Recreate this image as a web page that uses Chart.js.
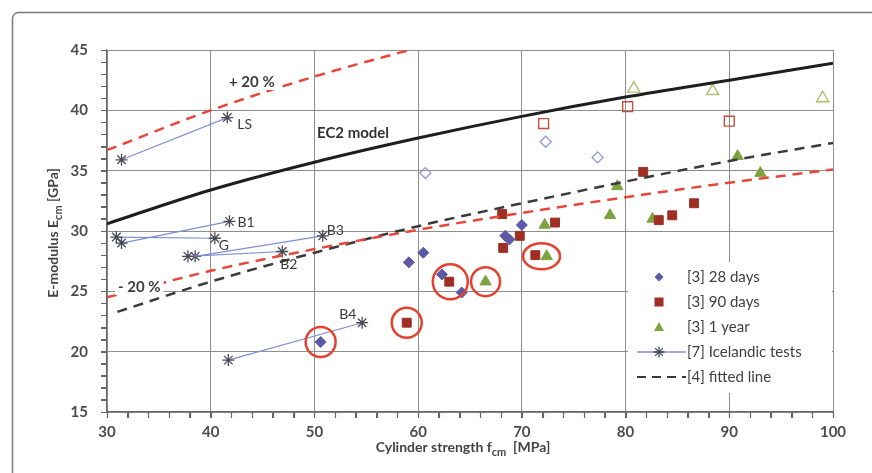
<!DOCTYPE html>
<html>
<head>
<meta charset="utf-8">
<script src="https://cdn.jsdelivr.net/npm/chart.js@4/dist/chart.umd.min.js"></script>
<style>
  html, body { margin: 0; padding: 0; background: #fff; }
  #wrap { width: 872px; height: 473px; position: relative; }
</style>
</head>
<body>
<div id="wrap"><canvas id="emodChart"></canvas></div>
<script>
// ---- values ----
// EC2 model curve and the +/- 20 % bands
const ec2X   = [30, 40, 50, 60, 70, 80, 90, 100];
const ec2Y   = [30.6, 33.4, 35.7, 37.7, 39.5, 41.1, 42.5, 43.9];
const upperX = [30, 40, 50, 60];
const upperY = [36.7, 40.0, 42.8, 45.2];
const lowerX = [30, 40, 50, 60, 70, 80, 90, 100];
const lowerY = [24.5, 26.7, 28.5, 30.1, 31.5, 32.8, 34.0, 35.1];
// [4] fitted line
const fitX = [31, 40, 50, 60, 70, 80, 90, 100];
const fitY = [23.3, 25.8, 28.2, 30.4, 32.3, 34.1, 35.8, 37.3];

// [3] 28 days
const d28X = [50.6, 59.1, 60.5, 62.3, 64.2, 68.4, 68.8, 70.0];
const d28Y = [20.8, 27.4, 28.2, 26.4, 24.9, 29.6, 29.3, 30.5];
const d28OpenX = [60.7, 72.3, 77.3];
const d28OpenY = [34.8, 37.4, 36.1];
// [3] 90 days
const d90X = [58.9, 63.0, 68.2, 69.8, 71.3, 68.1, 73.2, 81.7, 86.6, 84.5, 83.2];
const d90Y = [22.4, 25.8, 28.6, 29.6, 28.0, 31.4, 30.7, 34.9, 32.3, 31.3, 30.9];
const d90OpenX = [72.1, 80.2, 90.0];
const d90OpenY = [38.9, 40.3, 39.1];
// [3] 1 year
const y1X = [66.5, 72.4, 72.2, 79.2, 78.5, 82.6, 90.8, 93.0];
const y1Y = [25.8, 27.9, 30.5, 33.7, 31.3, 31.0, 36.2, 34.8];
const y1OpenX = [80.8, 88.4, 99.0];
const y1OpenY = [41.8, 41.6, 41.0];

// [7] Icelandic tests, start and end of each pair
const iceNames = ['LS', 'B1', 'G', 'B2', 'B3', 'B4'];
const iceX1 = [31.4, 31.4, 30.9, 37.8, 38.5, 41.7];
const iceY1 = [35.9, 29.0, 29.5, 27.9, 27.9, 19.3];
const iceX2 = [41.6, 41.8, 40.4, 46.9, 50.8, 54.6];
const iceY2 = [39.4, 30.8, 29.4, 28.3, 29.6, 22.4];

// red rings drawn around some points
const ringX = [50.6, 58.9, 63.1, 66.5, 71.9];
const ringY = [20.8, 22.4, 25.8, 25.8, 27.9];

const legendNames = ['[3] 28 days', '[3] 90 days', '[3] 1 year', '[7] Icelandic tests', '[4] fitted line'];

const FONT = 'Lato, "DejaVu Sans", sans-serif';
const RED = '#e8463a';
const DIAMOND = '#5c5aa6';
const SQUARE = '#9e2f25';
const TRIANGLE = '#7da23e';
const ICE_LINE = '#7f8fd2';
const STAR = '#4a4a55';

function pts(xs, ys) {
    return xs.map((x, i) => ({ x: x, y: ys[i] }));
}

function curve(xs, ys, color, dash, width) {
    return {
        type: 'scatter',
        data: pts(xs, ys),
        showLine: true,
        borderColor: color,
        borderWidth: width,
        borderDash: dash,
        pointRadius: 0,
        cubicInterpolationMode: 'monotone',
        fill: false
    };
}

function markers(xs, ys, style, fillColor, lineColor, r, bw) {
    return {
        type: 'scatter',
        data: pts(xs, ys),
        pointStyle: style,
        pointRadius: r,
        backgroundColor: fillColor,
        borderColor: lineColor,
        pointBorderWidth: bw
    };
}

const datasets = [
    curve(ec2X, ec2Y, '#1e1e1e', [], 3),
    curve(upperX, upperY, RED, [10, 7], 2.5),
    curve(lowerX, lowerY, RED, [10, 7], 2.5),
    curve(fitX, fitY, '#3a3a3a', [10, 7], 2.5)
];

// one small dataset for each Icelandic pair
for (let i = 0; i < iceNames.length; i++) {
    datasets.push({
        type: 'scatter',
        data: [{ x: iceX1[i], y: iceY1[i] }, { x: iceX2[i], y: iceY2[i] }],
        showLine: true,
        borderColor: ICE_LINE,
        borderWidth: 1.2,
        pointStyle: 'star',
        pointRadius: 6,
        pointBorderColor: STAR,
        pointBorderWidth: 1.3
    });
}

datasets.push(
    markers(d28OpenX, d28OpenY, 'rectRot', 'rgba(0,0,0,0)', '#8d9bd0', 5.5, 1.3),
    markers(d90OpenX, d90OpenY, 'rect', 'rgba(0,0,0,0)', '#c4503c', 7, 1.4),
    markers(y1OpenX, y1OpenY, 'triangle', 'rgba(0,0,0,0)', '#a9c271', 7, 1.4),
    markers(d28X, d28Y, 'rectRot', DIAMOND, DIAMOND, 5.5, 1),
    markers(d90X, d90Y, 'rect', SQUARE, SQUARE, 6.3, 1),
    markers(y1X, y1Y, 'triangle', TRIANGLE, TRIANGLE, 6.5, 1)
);

function drawRich(ctx, parts, x, y, align) {
    // parts: [text, isSubscript]
    let total = 0;
    parts.forEach(p => {
        ctx.font = p[1] ? 'bold 11px ' + FONT : 'bold 14px ' + FONT;
        total += ctx.measureText(p[0]).width;
    });
    let cx = align === 'center' ? x - total / 2 : x;
    parts.forEach(p => {
        ctx.font = p[1] ? 'bold 11px ' + FONT : 'bold 14px ' + FONT;
        ctx.fillText(p[0], cx, p[1] ? y + 4 : y);
        cx += ctx.measureText(p[0]).width;
    });
}

function labelWithBg(ctx, text, x, y, font) {
    ctx.font = font;
    const w = ctx.measureText(text).width;
    ctx.fillStyle = '#fff';
    ctx.fillRect(x - 3, y - 8, w + 6, 16);
    ctx.fillStyle = '#3c3c3c';
    ctx.fillText(text, x, y);
}

const pagePlugin = {
    id: 'page',
    beforeDraw(chart) {
        const ctx = chart.ctx;
        ctx.save();
        ctx.fillStyle = '#fff';
        ctx.fillRect(0, 0, chart.width, chart.height);
        // outer frame of the scanned figure, runs off right and bottom
        ctx.strokeStyle = '#7a7a7a';
        ctx.lineWidth = 1.5;
        ctx.beginPath();
        ctx.roundRect(12.5, 12.5, 900, 500, 6);
        ctx.stroke();
        ctx.restore();
    },
    afterDatasetsDraw(chart) {
        const ctx = chart.ctx;
        const xs = chart.scales.x;
        const ys = chart.scales.y;
        ctx.save();

        // red rings
        const ringSize = [[15, 15], [15, 15], [17.5, 17.5], [14.5, 14.5], [18.5, 13]];
        ctx.strokeStyle = '#e5412f';
        ctx.lineWidth = 2.5;
        ringX.forEach((v, i) => {
            ctx.beginPath();
            ctx.ellipse(xs.getPixelForValue(v), ys.getPixelForValue(ringY[i]),
                ringSize[i][0], ringSize[i][1], 0, 0, Math.PI * 2);
            ctx.stroke();
        });

        // names of Icelandic tests, next to the end star
        const nameOffset = [[10, 7], [8, 1], [4, 7], [-2, 13], [4, -5], [-23, -8]];
        ctx.font = '14px ' + FONT;
        ctx.fillStyle = '#3a3a3a';
        ctx.textAlign = 'left';
        ctx.textBaseline = 'middle';
        iceNames.forEach((n, i) => {
            ctx.fillText(n, xs.getPixelForValue(iceX2[i]) + nameOffset[i][0],
                ys.getPixelForValue(iceY2[i]) + nameOffset[i][1]);
        });

        // curve labels
        labelWithBg(ctx, '+ 20 %', 229, 82, 'bold 15px ' + FONT);
        labelWithBg(ctx, '- 20 %', 118, 287, 'bold 15px ' + FONT);
        ctx.font = 'bold 15px ' + FONT;
        ctx.fillStyle = '#333';
        ctx.fillText('EC2 model', 317, 133);

        // legend box
        ctx.fillStyle = '#fff';
        ctx.fillRect(628, 262, 204, 131);
        const lx = 659, tx = 687;
        const rowY = [277, 302, 327, 352, 377];
        // diamond
        ctx.fillStyle = DIAMOND;
        ctx.beginPath();
        ctx.moveTo(lx - 4.5, rowY[0]); ctx.lineTo(lx, rowY[0] - 4.5);
        ctx.lineTo(lx + 4.5, rowY[0]); ctx.lineTo(lx, rowY[0] + 4.5);
        ctx.closePath(); ctx.fill();
        // square
        ctx.fillStyle = SQUARE;
        ctx.fillRect(lx - 4.5, rowY[1] - 4.5, 9, 9);
        // triangle
        ctx.fillStyle = TRIANGLE;
        ctx.beginPath();
        ctx.moveTo(lx, rowY[2] - 5); ctx.lineTo(lx + 5, rowY[2] + 4); ctx.lineTo(lx - 5, rowY[2] + 4);
        ctx.closePath(); ctx.fill();
        // line with star
        ctx.strokeStyle = ICE_LINE;
        ctx.lineWidth = 1.3;
        ctx.beginPath();
        ctx.moveTo(637, rowY[3]); ctx.lineTo(686, rowY[3]);
        ctx.stroke();
        ctx.strokeStyle = STAR;
        ctx.beginPath();
        for (let a = 0; a < 4; a++) {
            const ang = a * Math.PI / 4;
            ctx.moveTo(lx - 5.5 * Math.cos(ang), rowY[3] - 5.5 * Math.sin(ang));
            ctx.lineTo(lx + 5.5 * Math.cos(ang), rowY[3] + 5.5 * Math.sin(ang));
        }
        ctx.stroke();
        // dashed fitted line
        ctx.strokeStyle = '#3a3a3a';
        ctx.lineWidth = 2.2;
        ctx.setLineDash([9, 6]);
        ctx.beginPath();
        ctx.moveTo(637, rowY[4]); ctx.lineTo(686, rowY[4]);
        ctx.stroke();
        ctx.setLineDash([]);

        ctx.font = '15px ' + FONT;
        ctx.fillStyle = '#404040';
        legendNames.forEach((n, i) => ctx.fillText(n, tx, rowY[i]));

        ctx.restore();
    },
    afterDraw(chart) {
        const ctx = chart.ctx;
        const xs = chart.scales.x;
        const ys = chart.scales.y;
        const area = chart.chartArea;
        ctx.save();

        // minor tick marks outside the axes
        ctx.strokeStyle = '#666';
        ctx.lineWidth = 1.2;
        ctx.beginPath();
        for (let v = 15; v <= 45; v++) {
            const py = Math.round(ys.getPixelForValue(v)) + 0.5;
            ctx.moveTo(area.left - 6, py);
            ctx.lineTo(area.left, py);
        }
        for (let v = 30; v <= 100; v += 2) {
            const px = Math.round(xs.getPixelForValue(v)) + 0.5;
            ctx.moveTo(px, area.bottom);
            ctx.lineTo(px, area.bottom + 6);
        }
        ctx.stroke();

        ctx.fillStyle = '#444';
        ctx.textBaseline = 'alphabetic';
        drawRich(ctx, [['Cylinder strength f', false], ['cm', true], ['  [MPa]', false]], 463, 452, 'center');
        ctx.translate(58, 233);
        ctx.rotate(-Math.PI / 2);
        drawRich(ctx, [['E-modulus E', false], ['cm', true], [' [GPa]', false]], 0, 0, 'center');
        ctx.restore();
    }
};

new Chart(document.getElementById('emodChart'), {
    type: 'scatter',
    data: { datasets: datasets },
    options: {
        responsive: true,
        maintainAspectRatio: false,
        animation: false,
        layout: { padding: { top: 50, right: 39, left: 0, bottom: 0 } },
        plugins: {
            legend: { display: false },
            tooltip: { enabled: false }
        },
        scales: {
            x: {
                type: 'linear',
                min: 30,
                max: 100,
                afterFit: s => { s.height = 61; },
                ticks: {
                    stepSize: 2,
                    autoSkip: false,
                    maxRotation: 0,
                    padding: 5,
                    color: '#4d4d4d',
                    font: { family: FONT, size: 15, weight: 'bold' },
                    callback: v => (v % 10 === 0 ? v : '')
                },
                grid: {
                    color: c => (c.tick && c.tick.value % 10 === 0 ? '#8e8e8e' : 'rgba(0,0,0,0)'),
                    tickColor: '#666',
                    tickLength: 6,
                    lineWidth: 1
                },
                border: { color: '#666', width: 1.2 }
            },
            y: {
                min: 15,
                max: 45,
                afterFit: s => { s.width = 107; },
                ticks: {
                    stepSize: 1,
                    autoSkip: false,
                    padding: 13,
                    color: '#4d4d4d',
                    font: { family: FONT, size: 15, weight: 'bold' },
                    callback: v => (v % 5 === 0 ? v : '')
                },
                grid: {
                    color: c => (c.tick && c.tick.value % 5 === 0 ? '#8e8e8e' : 'rgba(0,0,0,0)'),
                    tickColor: '#666',
                    tickLength: 6,
                    lineWidth: 1
                },
                border: { color: '#666', width: 1.2 }
            }
        }
    },
    plugins: [pagePlugin]
});
</script>
</body>
</html>
